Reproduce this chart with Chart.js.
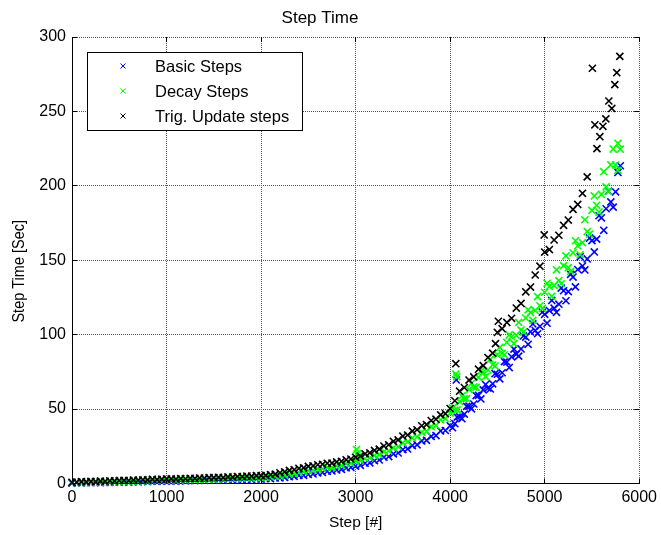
<!DOCTYPE html>
<html>
<head>
<meta charset="utf-8">
<title>Step Time</title>
<script src="https://cdn.jsdelivr.net/npm/chart.js@4.4.0/dist/chart.umd.min.js"></script>
<style>
  html, body { margin: 0; padding: 0; background: #fff; }
  #wrap { width: 661px; height: 535px; }
</style>
</head>
<body>
<div id="wrap"><canvas id="stepChart"></canvas></div>
<script>
// step numbers sampled every 50 steps
const steps = [
    0, 50, 100, 150, 200, 250, 300, 350, 400, 450, 500,
    550, 600, 650, 700, 750, 800, 850, 900, 950, 1000,
    1050, 1100, 1150, 1200, 1250, 1300, 1350, 1400, 1450, 1500,
    1550, 1600, 1650, 1700, 1750, 1800, 1850, 1900, 1950, 2000,
    2050, 2100, 2150, 2200, 2250, 2300, 2350, 2400, 2450, 2500,
    2550, 2600, 2650, 2700, 2750, 2800, 2850, 2900, 2950, 3000,
    3050, 3100, 3150, 3200, 3250, 3300, 3350, 3400, 3450, 3500,
    3550, 3600, 3650, 3700, 3750, 3800, 3850, 3900, 3950, 4000,
    4050, 4100, 4150, 4200, 4250, 4300, 4350, 4400, 4450, 4500,
    4550, 4600, 4650, 4700, 4750, 4800, 4850, 4900, 4950, 5000,
    5050, 5100, 5150, 5200, 5250, 5300, 5350, 5400, 5450, 5500,
    5550, 5600, 5650, 5700, 5750, 5800
];

const basicTimes = [
    0.3, 0.5, 0.4, 0.6, 0.5, 0.7, 0.6, 0.8, 0.7, 0.9, 0.9,
    1.1, 0.9, 1.2, 1.1, 1.4, 1.2, 1.5, 1.4, 1.6, 1.6,
    1.8, 1.6, 1.9, 1.8, 2.1, 1.9, 2.2, 2.1, 2.4, 2.3,
    2.5, 2.3, 2.6, 2.5, 2.8, 2.6, 2.9, 2.8, 3.1, 3.0,
    3.3, 3.3, 3.7, 3.8, 4.1, 4.6, 4.8, 5.4, 5.5, 6.1,
    6.4, 7.2, 7.4, 8.2, 8.4, 9.1, 9.5, 10.5, 10.8, 11.7,
    12.2, 13.6, 13.9, 15.3, 15.8, 17.7, 18.1, 19.9, 20.5, 22.8,
    23.2, 25.5, 26.0, 28.6, 29.0, 31.6, 32.2, 35.3, 35.6, 38.8,
    40.2, 44.9, 46.6, 52.0, 53.4, 59.2, 62.9, 64.1, 67.0, 73.4,
    74.4, 81.6, 85.1, 86.9, 90.4, 98.4, 101.9, 102.8, 105.6, 113.7,
    116.2, 117.8, 120.5, 129.5, 128.9, 138.7, 143.8, 146.1, 150.9, 163.2,
    164.2, 178.5, 184.6, 189.2, 196.0, 213.5
];

const decayTimes = [
    0.6, 0.7, 0.6, 0.9, 0.8, 1.0, 0.9, 1.2, 1.1, 1.3, 1.2,
    1.5, 1.4, 1.7, 1.6, 1.9, 1.8, 2.0, 1.9, 2.2, 2.1,
    2.4, 2.2, 2.5, 2.4, 2.7, 2.6, 2.9, 2.7, 3.0, 2.9,
    3.2, 3.0, 3.4, 3.3, 3.6, 3.5, 3.8, 3.7, 4.0, 3.9,
    4.3, 4.4, 4.9, 5.0, 5.5, 6.4, 6.7, 7.5, 7.8, 8.7,
    8.9, 9.7, 9.9, 10.8, 10.9, 11.8, 12.1, 13.3, 13.6, 14.8,
    15.3, 16.8, 17.3, 18.9, 19.4, 21.4, 21.9, 23.9, 24.7, 27.3,
    27.9, 30.6, 31.3, 34.4, 35.0, 38.2, 39.0, 42.8, 43.5, 47.3,
    49.4, 55.0, 57.0, 63.1, 64.8, 71.3, 74.9, 76.2, 79.8, 86.6,
    87.4, 94.8, 98.6, 99.5, 103.1, 111.2, 114.8, 116.3, 119.4, 128.5,
    132.4, 133.1, 136.3, 146.4, 145.0, 155.0, 159.7, 161.8, 169.3, 183.5,
    186.9, 194.2, 199.3, 214.1, 214.0, 224.6
];

// trig run stops its regular sampling at step 5450
const trigTimes = [
    0.8, 1.0, 1.2, 1.1, 1.4, 1.3, 1.6, 1.5, 1.8, 1.7, 2.0,
    2.1, 2.0, 2.3, 2.2, 2.5, 2.4, 2.8, 2.6, 2.9, 3.0,
    3.1, 3.0, 3.3, 3.2, 3.5, 3.4, 3.7, 3.6, 3.9, 4.0,
    4.1, 4.0, 4.4, 4.3, 4.7, 4.6, 5.0, 4.9, 5.3, 5.3,
    5.5, 5.9, 6.3, 7.2, 7.8, 8.8, 9.2, 10.1, 10.5, 11.5,
    11.8, 12.6, 12.9, 13.6, 13.7, 14.5, 14.9, 15.9, 16.4, 17.6,
    18.4, 19.9, 20.6, 22.2, 23.1, 25.2, 26.0, 28.3, 29.3, 31.8,
    32.6, 35.2, 36.1, 38.8, 39.6, 42.3, 43.2, 46.1, 46.9, 50.4,
    55.6, 62.0, 64.5, 69.5, 71.6, 76.8, 79.2, 84.6, 87.6, 101.5,
    104.0, 108.2, 111.0, 117.9, 121.0, 128.8, 132.0, 140.1, 146.0, 155.5,
    157.2, 163.6, 166.8, 173.5, 177.0, 184.2, 187.5, 195.0, 206.0
];

// in-between samples where the basic/decay bands get thick
const midSteps = [
    4025, 4075, 4125, 4175, 4225, 4275, 4325, 4375, 4425, 4475,
    4525, 4575, 4625, 4675, 4725, 4775, 4825, 4875, 4925, 4975,
    5025, 5075, 5125, 5175, 5225, 5275, 5325, 5375, 5425, 5475,
    5525, 5575, 5625, 5675, 5725, 5775
];
const basicMidTimes = [
    37.5, 44.6, 43.5, 51.8, 50.2, 59.1, 56.8, 66.5, 63.5, 73.8,
    70.3, 81.9, 77.9, 90.3, 85.6, 99.1, 93.5, 107.2, 100.6, 115.1,
    107.7, 123.0, 115.0, 131.3, 122.8, 140.5, 132.1, 152.3, 143.5, 164.9,
    155.6, 179.9, 170.1, 196.4, 185.7, 209.0
];
const decayMidTimes = [
    50.8, 49.5, 58.8, 57.0, 67.2, 64.6, 75.5, 71.8, 83.4, 78.9,
    91.4, 86.5, 99.8, 94.1, 108.2, 101.7, 116.7, 109.6, 125.6, 117.7,
    134.5, 125.8, 143.6, 134.2, 152.9, 142.5, 163.1, 153.7, 177.2, 167.5,
    193.2, 182.4, 209.5, 196.2, 224.7, 210.4
];

// off-grid samples (spikes and the sparse tail of the trig run)
const basicExtraSteps = [4065];
const basicExtraTimes = [69.6];
const decayExtraSteps = [3010, 3020, 3030, 4060, 4070, 5775];
const decayExtraTimes = [22.8, 20.1, 18.0, 73.5, 71.8, 228.5];
const trigExtraSteps = [4060, 4480, 4510, 4995, 5505, 5531, 5553, 5584, 5616, 5647, 5679, 5710, 5742, 5763, 5795];
const trigExtraTimes = [80.5, 94.0, 109.0, 167.0, 279.0, 241.0, 225.0, 233.0, 240.0, 245.0, 257.0, 252.0, 268.0, 276.0, 287.0];

const xTicks = [0, 1000, 2000, 3000, 4000, 5000, 6000];
const yTicks = [0, 50, 100, 150, 200, 250, 300];

const FONT = '"Liberation Sans", Arial, Helvetica, sans-serif';

function toPoints(xs, ys) {
    return ys.map((y, i) => ({ x: xs[i], y }));
}

function align(p) {
    return Math.round(p - 0.5) + 0.5;
}

// MATLAB-style inward tick marks on all four sides
const innerTicks = {
    id: 'innerTicks',
    afterDatasetsDraw(chart) {
        const { ctx, chartArea: a, scales: { x, y } } = chart;
        ctx.save();
        ctx.strokeStyle = '#000';
        ctx.lineWidth = 1;
        ctx.beginPath();
        xTicks.forEach(v => {
            const px = align(x.getPixelForValue(v));
            ctx.moveTo(px, a.bottom); ctx.lineTo(px, a.bottom - 5);
            ctx.moveTo(px, a.top); ctx.lineTo(px, a.top + 5);
        });
        yTicks.forEach(v => {
            const py = align(y.getPixelForValue(v));
            ctx.moveTo(a.left, py); ctx.lineTo(a.left + 5, py);
            ctx.moveTo(a.right, py); ctx.lineTo(a.right - 5, py);
        });
        ctx.stroke();
        ctx.restore();
    }
};

// y label sits a little below the middle of the axis, as in the original
const yLabel = {
    id: 'yLabel',
    afterDraw(chart) {
        const { ctx, chartArea: a } = chart;
        ctx.save();
        ctx.translate(20, (a.top + a.bottom) / 2 + 11);
        ctx.scale(1.08, 1);
        ctx.rotate(-Math.PI / 2);
        ctx.font = '14.5px ' + FONT;
        ctx.fillStyle = '#000';
        ctx.textAlign = 'center';
        ctx.textBaseline = 'middle';
        ctx.fillText('Step Time [Sec]', 0, 0);
        ctx.restore();
    }
};

// boxed legend in the upper left corner of the axes
const boxLegend = {
    id: 'boxLegend',
    afterDraw(chart) {
        const ctx = chart.ctx;
        const left = chart.chartArea.left + 15;
        const top = chart.chartArea.top + 15;
        ctx.save();
        ctx.fillStyle = '#fff';
        ctx.fillRect(left, top, 215, 78);
        ctx.strokeStyle = '#000';
        ctx.lineWidth = 1;
        ctx.strokeRect(left + 0.5, top + 0.5, 215, 78);
        ctx.font = '16.5px ' + FONT;
        ctx.textBaseline = 'middle';
        chart.data.datasets.forEach((ds, i) => {
            const cy = top + 14 + i * 25;
            const cx = left + 36;
            ctx.strokeStyle = ds.borderColor;
            ctx.beginPath();
            ctx.moveTo(cx - 2.5, cy - 2.5); ctx.lineTo(cx + 2.5, cy + 2.5);
            ctx.moveTo(cx - 2.5, cy + 2.5); ctx.lineTo(cx + 2.5, cy - 2.5);
            ctx.stroke();
            ctx.fillStyle = '#000';
            ctx.fillText(ds.label, left + 68, cy + 1.5);
        });
        ctx.restore();
    }
};

const markerStyle = {
    showLine: false,
    pointStyle: 'crossRot',
    pointRadius: 5,
    pointHoverRadius: 5,
    pointBorderWidth: 1.6,
    clip: false
};

new Chart(document.getElementById('stepChart'), {
    type: 'scatter',
    data: {
        datasets: [
            {
                ...markerStyle,
                label: 'Basic Steps',
                data: [
                    ...toPoints(steps, basicTimes),
                    ...toPoints(midSteps, basicMidTimes),
                    ...toPoints(basicExtraSteps, basicExtraTimes)
                ],
                borderColor: '#0000ff',
                backgroundColor: '#0000ff',
                order: 3
            },
            {
                ...markerStyle,
                label: 'Decay Steps',
                data: [
                    ...toPoints(steps, decayTimes),
                    ...toPoints(midSteps, decayMidTimes),
                    ...toPoints(decayExtraSteps, decayExtraTimes)
                ],
                borderColor: '#00ff00',
                backgroundColor: '#00ff00',
                order: 2
            },
            {
                ...markerStyle,
                label: 'Trig. Update steps',
                data: [
                    ...toPoints(steps, trigTimes),
                    ...toPoints(trigExtraSteps, trigExtraTimes)
                ],
                borderColor: '#000000',
                backgroundColor: '#000000',
                order: 1
            }
        ]
    },
    options: {
        responsive: true,
        maintainAspectRatio: false,
        animation: false,
        events: [],
        layout: { padding: { left: 0, right: 21, top: 0, bottom: 0 } },
        plugins: {
            legend: { display: false },
            tooltip: { enabled: false },
            title: {
                display: true,
                text: 'Step Time',
                color: '#000',
                font: { family: FONT, size: 17, weight: 'normal' },
                padding: { top: 8, bottom: 8.6 }
            }
        },
        scales: {
            x: {
                type: 'linear',
                min: 0,
                max: 6000,
                afterBuildTicks: s => { s.ticks = xTicks.map(v => ({ value: v })); },
                afterFit: s => { s.height = 51.5; },
                ticks: {
                    color: '#000',
                    font: { family: FONT, size: 16 },
                    padding: 4,
                    maxRotation: 0,
                    callback: v => String(v)
                },
                grid: { color: '#555', lineWidth: 1, drawTicks: false, tickLength: 0 },
                border: { display: true, color: '#000', width: 1, dash: [1, 1] },
                title: {
                    display: true,
                    text: 'Step [#]',
                    color: '#000',
                    font: { family: FONT, size: 15.5 },
                    padding: { top: 0, bottom: 3 }
                }
            },
            y: {
                type: 'linear',
                min: 0,
                max: 300,
                afterBuildTicks: s => { s.ticks = yTicks.map(v => ({ value: v })); },
                afterFit: s => { s.width = 72; },
                ticks: {
                    color: '#000',
                    font: { family: FONT, size: 16 },
                    padding: 6,
                    callback: v => String(v)
                },
                grid: { color: '#555', lineWidth: 1, drawTicks: false, tickLength: 0 },
                border: { display: true, color: '#000', width: 1, dash: [1, 1] }
            }
        }
    },
    plugins: [innerTicks, yLabel, boxLegend]
});
</script>
</body>
</html>
